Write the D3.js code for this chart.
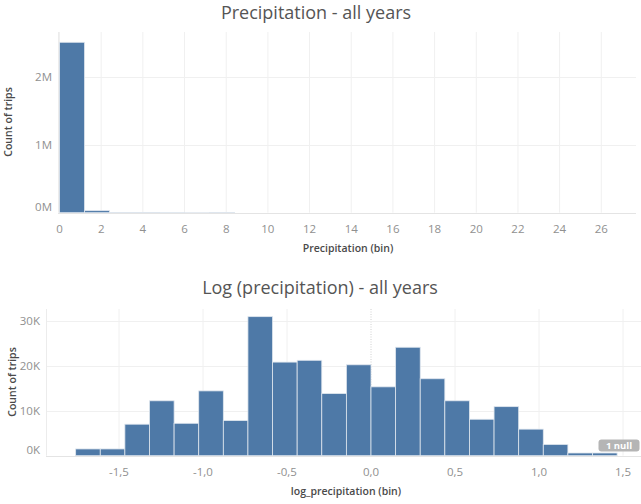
<!DOCTYPE html>
<html><head><meta charset="utf-8">
<script src="https://cdn.jsdelivr.net/npm/d3@7"></script>
<style>
body{margin:0;background:#fff;}
svg{display:block;font-family:"Open Sans",sans-serif;}
</style></head>
<body>
<svg id="c" width="641" height="504"></svg>
<script>
// ---- Data ----
const topTitle = "Precipitation - all years";
const topBinSize = 1.2;
const topBinStarts = [0, 1.2, 2.4, 3.6, 4.8, 6.0, 7.2];
const topCounts = [2506000, 30000, 2500, 1500, 1200, 500, 4000];
const topXTicks = [0,2,4,6,8,10,12,14,16,18,20,22,24,26];
const topYTicks = [0, 1000000, 2000000];
const topYTickLabels = ["0M","1M","2M"];

const botTitle = "Log (precipitation) - all years";
const botBinSize = 0.1465;
const botBinIndex = [-12,-11,-10,-9,-8,-7,-6,-5,-4,-3,-2,-1,0,1,2,3,4,5,6,7,8,9];
const botCounts = [1500,1500,7000,12200,7200,14400,7800,30900,20800,21200,13800,20200,15300,24100,17100,12200,8100,10900,5900,2500,600,600];
const botXTicks = [-1.5,-1.0,-0.5,0.0,0.5,1.0,1.5];
const botXTickLabels = ["-1,5","-1,0","-0,5","0,0","0,5","1,0","1,5"];
const botYTicks = [0,10000,20000,30000];
const botYTickLabels = ["0K","10K","20K","30K"];
const nullLabel = "1 null";

const yTitle = "Count of trips";
const topXTitle = "Precipitation (bin)";
const botXTitle = "log_precipitation (bin)";

// ---- Drawing ----
const svg = d3.select("#c");
const barColor = "#4e79a7";
const gridColor = "#f0f0f0";
const tickColor = "#909090";
const titleColor = "#555";
const axisTitleColor = "#4a4a4a";

function panel(o){
  const g = svg.append("g");
  g.selectAll(".vg").data(o.xTicks).join("line")
    .attr("x1", d=>o.x(d)).attr("x2", d=>o.x(d))
    .attr("y1", o.top).attr("y2", o.y(0))
    .attr("stroke", d => (o.zeroDotted && d===0) ? "#d0d0d0" : gridColor)
    .attr("stroke-dasharray", d => (o.zeroDotted && d===0) ? "1,1.5" : null)
    .attr("stroke-width",1);
  g.selectAll(".hg").data(o.yTicks.filter(d=>d>0)).join("line")
    .attr("x1", o.left).attr("x2", o.right)
    .attr("y1", d=>Math.round(o.y(d))+0.5).attr("y2", d=>Math.round(o.y(d))+0.5)
    .attr("stroke", gridColor);
  g.append("line").attr("x1",o.left+0.5).attr("x2",o.left+0.5)
    .attr("y1",o.top).attr("y2",o.y(0)).attr("stroke","#ececec");
  g.selectAll("rect.bar").data(o.bars).join("rect")
    .attr("x", d=>o.x(d.x0)).attr("width", d=>o.x(d.x1)-o.x(d.x0))
    .attr("y", d=>o.y(d.v)).attr("height", d=>o.y(0)-o.y(d.v))
    .attr("fill", barColor).attr("stroke","#dfe6ee").attr("stroke-width",0.8);
  g.append("line").attr("x1",o.left).attr("x2",o.right)
    .attr("y1",Math.round(o.y(0))+0.5).attr("y2",Math.round(o.y(0))+0.5)
    .attr("stroke","#e4e4e4");
  g.selectAll(".yt").data(o.yTicks).join("text")
    .attr("x", o.left-6).attr("y", d=> d===0 ? o.y(d)-6 : o.y(d))
    .attr("dy","0.35em").attr("text-anchor","end")
    .attr("font-size",11.5).attr("fill",tickColor)
    .text((d,i)=>o.yLabels[i]);
  g.selectAll(".xt").data(o.xTicks).join("text")
    .attr("x", d=>o.x(d)).attr("y", o.y(0)+16)
    .attr("dy","0.35em").attr("text-anchor","middle")
    .attr("font-size",11.5).attr("fill",tickColor)
    .text((d,i)=>o.xLabels[i]);
  g.append("text").attr("x",o.titleX).attr("y",o.titleY).attr("text-anchor","middle")
    .attr("dy","0.35em").attr("font-size",18).attr("fill",titleColor).text(o.title);
  g.append("text").attr("x",o.xTitleX).attr("y",o.xTitleY).attr("text-anchor","middle")
    .attr("dy","0.35em").attr("font-size",10.5).attr("font-weight",600)
    .attr("fill",axisTitleColor).text(o.xTitle);
  g.append("text").attr("transform",`translate(${o.yTitleX},${o.yTitleY}) rotate(-90)`)
    .attr("text-anchor","middle").attr("dy","0.35em").attr("font-size",10.5)
    .attr("font-weight",600).attr("fill",axisTitleColor).text(yTitle);
  return g;
}

const xTop = d3.scaleLinear().domain([0,26]).range([59.5,601.3]);
const yTop = d3.scaleLinear().domain([0,2000000]).range([212.7,76.7]);
panel({
  x:xTop, y:yTop, left:58, right:636, top:32,
  xTicks:topXTicks, xLabels:topXTicks.map(String),
  yTicks:topYTicks, yLabels:topYTickLabels,
  bars: topBinStarts.map((s,i)=>({x0:s, x1:s+topBinSize, v:topCounts[i]})),
  title:topTitle, titleX:316, titleY:13,
  xTitle:topXTitle, xTitleX:348, xTitleY:248,
  yTitleX:8, yTitleY:122
});

const xBot = d3.scaleLinear().domain([0,1.5]).range([371,623]);
const yBot = d3.scaleLinear().domain([0,10000]).range([455.7,410.7]);
const gb = panel({
  x:xBot, y:yBot, left:46, right:641, top:309, zeroDotted:true,
  xTicks:botXTicks, xLabels:botXTickLabels,
  yTicks:botYTicks, yLabels:botYTickLabels,
  bars: botBinIndex.map((k,i)=>({x0:k*botBinSize, x1:(k+1)*botBinSize, v:botCounts[i]})),
  title:botTitle, titleX:320, titleY:288,
  xTitle:botXTitle, xTitleX:346, xTitleY:491,
  yTitleX:12, yTitleY:382
});
gb.append("rect").attr("x",598.5).attr("y",439.5).attr("width",41).attr("height",12)
  .attr("rx",3).attr("fill","#b5b5b5");
gb.append("text").attr("x",619).attr("y",445.5).attr("dy","0.35em").attr("text-anchor","middle")
  .attr("font-size",9.5).attr("font-weight",700).attr("fill","#fff").text(nullLabel);
</script>
</body></html>
